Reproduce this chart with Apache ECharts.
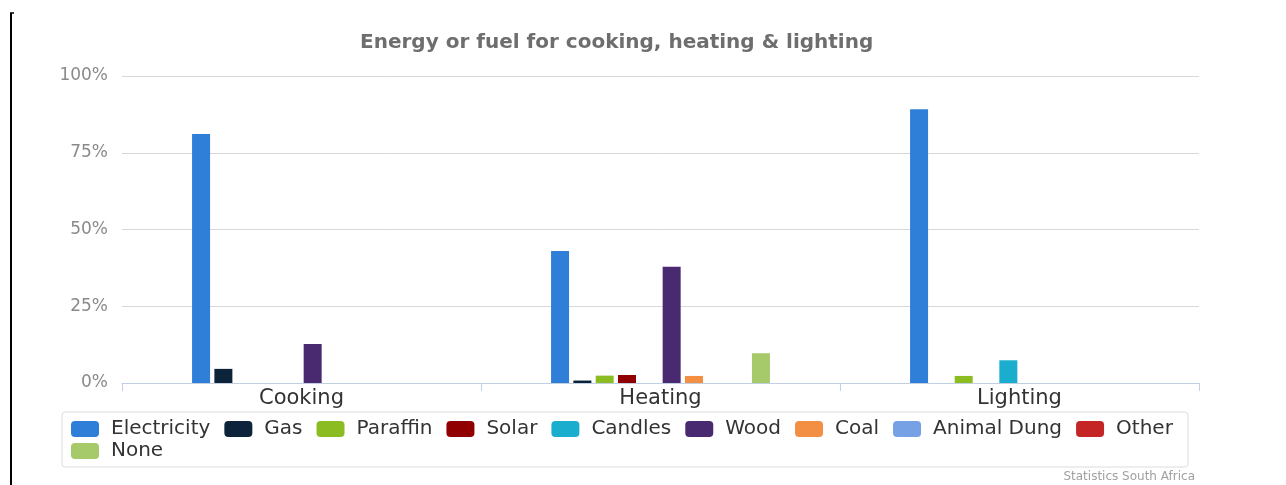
<!DOCTYPE html>
<html>
<head>
<meta charset="utf-8">
<script src="https://cdn.jsdelivr.net/npm/echarts@6/dist/echarts.min.js"></script>
<style>
html,body{margin:0;padding:0;background:#fff;}
#chart{width:1286px;height:485px;}
</style>
</head>
<body>
<div id="chart"></div>
<script>
const titleText = 'Energy or fuel for cooking, heating & lighting';
const categories = ['Cooking', 'Heating', 'Lighting'];
const yTicks = [0, 25, 50, 75, 100];
const seriesNames = ['Electricity', 'Gas', 'Paraffin', 'Solar', 'Candles', 'Wood', 'Coal', 'Animal Dung', 'Other', 'None'];
const colors = ['#2f7ed8', '#0d233a', '#8bbc21', '#910000', '#1aadce', '#492970', '#f28f43', '#77a1e5', '#c42525', '#a6c96a'];
// values in % per category [Cooking, Heating, Lighting]
const electricity = [81.1, 43.0, 89.2];
const gas = [4.6, 0.8, null];
const paraffin = [null, 2.4, 2.3];
const solar = [null, 2.6, null];
const candles = [null, null, 7.4];
const wood = [12.7, 37.9, null];
const coal = [null, 2.3, null];
const animalDung = [null, null, null];
const other = [null, null, null];
const none = [null, 9.7, null];
const seriesValues = [electricity, gas, paraffin, solar, candles, wood, coal, animalDung, other, none];
const credit = 'Statistics South Africa';

const FONT = 'DejaVu Sans';
const chart = echarts.init(document.getElementById('chart'), null, {renderer: 'canvas'});

const series = seriesNames.map((name, i) => ({
  name: name,
  type: 'bar',
  data: seriesValues[i],
  barWidth: 18,
  barGap: '24%',
  itemStyle: {color: colors[i]},
  emphasis: {disabled: true}
}));

const legendBase = {
  left: 71,
  orient: 'horizontal',
  itemWidth: 28,
  itemHeight: 16,
  itemGap: 14,
  padding: 0,
  icon: 'roundRect',
  textStyle: {fontFamily: FONT, fontSize: 20, color: '#333', lineHeight: 20, padding: [0, 0, 0, 7]}
};

const option = {
  animation: false,
  color: colors,
  title: {
    text: titleText,
    left: 360,
    top: 33,
    padding: 0,
    textStyle: {fontFamily: FONT, fontSize: 20, fontWeight: 'bold', color: '#6e6e6e'}
  },
  grid: {left: 122, right: 87, top: 76, bottom: 102, containLabel: false},
  xAxis: {
    type: 'category',
    data: categories,
    axisLine: {lineStyle: {color: '#c0d0e0'}},
    axisTick: {show: true, length: 8, lineStyle: {color: '#c0d0e0'}},
    axisLabel: {fontFamily: FONT, fontSize: 21, color: '#333', margin: 5}
  },
  yAxis: {
    type: 'value',
    min: yTicks[0],
    max: yTicks[yTicks.length - 1],
    interval: 25,
    axisLine: {show: false},
    axisTick: {show: false},
    splitLine: {lineStyle: {color: '#d8d8d8', width: 1}},
    axisLabel: {fontFamily: FONT, fontSize: 17, color: '#8a8a8a', margin: 14, formatter: '{value}%'}
  },
  legend: [
    Object.assign({}, legendBase, {data: seriesNames.slice(0, 9), top: 419}),
    Object.assign({}, legendBase, {data: seriesNames.slice(9), top: 441})
  ],
  graphic: [
    {type: 'rect', shape: {x: 62, y: 412, width: 1126, height: 55, r: 3}, style: {fill: 'none', stroke: '#dcdcdc', lineWidth: 1}, silent: true, z: -1},
    {type: 'line', shape: {x1: 11, y1: 13, x2: 11, y2: 485}, style: {stroke: '#000', lineWidth: 2}, silent: true},
    {type: 'line', shape: {x1: 10, y1: 13, x2: 14, y2: 13}, style: {stroke: '#000', lineWidth: 1.5}, silent: true},
    {type: 'text', style: {text: credit, x: 1195, y: 477, textAlign: 'right', textVerticalAlign: 'middle', font: '12px "DejaVu Sans"', fill: '#a0a0a0'}, silent: true}
  ],
  series: series
};
chart.setOption(option);
</script>
</body>
</html>
